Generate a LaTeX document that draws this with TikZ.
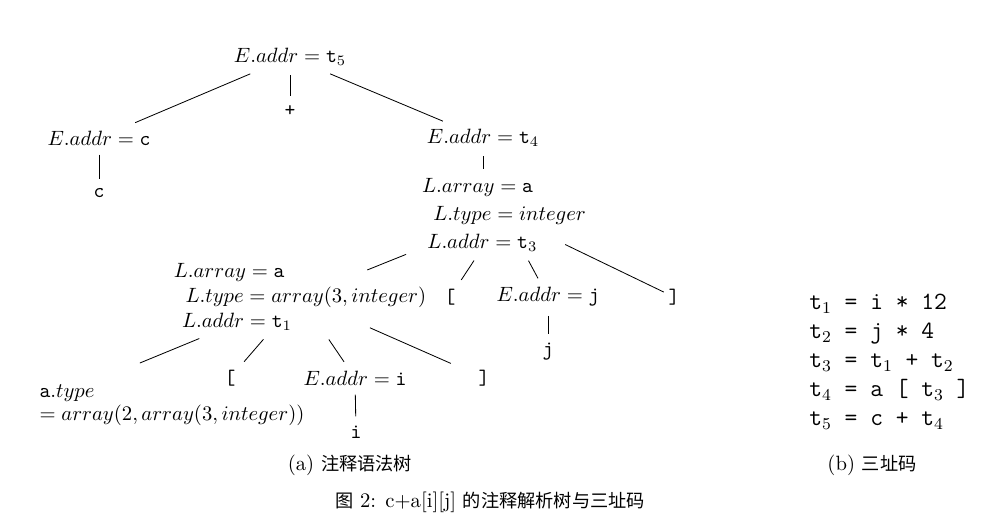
\documentclass[tikz,border=0pt]{standalone}
\usepackage{fontspec}
\usetikzlibrary{calc}
\newfontfamily\cjk[Scale=0.88]{Noto Sans CJK SC}
\begin{document}
\begin{tikzpicture}[x=0.017cm, y=-0.017cm, branch/.style={shorten <=1pt, shorten >=1pt}, tac/.style={font=\large\ttfamily, align=left}]
		\useasboundingbox (0,0) rectangle (983,523);
		\node (root) at (290,57) {$E.addr = \mathtt{t}_5$};
		\node (plus) at (290,111) {\texttt{+}};
		\node (Ec) at (99,138) {$E.addr = \mathtt{c}$};
		\node (c) at (99,193) {$\mathtt{c}$};
		\node (Et4) at (483,138) {$E.addr = \mathtt{t}_4$};
		\node[align=left] (L3) at (504,215) {$L.array = \mathtt{a}$\\[1.5pt]\hspace*{0.19cm}$L.type = integer$\\[1.5pt]\hspace*{0.09cm}$L.addr = \mathtt{t}_3$};
		
		\node (lb3) at (450,297) {\texttt{[}};
		\node (Ej) at (548,297) {$E.addr = \mathtt{j}$};
		\node (rb3) at (674,297) {\texttt{]}};
		\node (j) at (548,352) {$\mathtt{j}$};
		\node[align=left] (L2) at (300,297) {$L.array = \mathtt{a}$\\\hspace*{0.2cm}$L.type = array(3, integer)$\\\hspace*{0.14cm}$L.addr = \mathtt{t}_1$};
		
		\node (atype) at (67,393) {$\mathtt{a}.type$};
		\node[anchor=north west] (atypeval) at ([yshift=5.5pt]atype.south west) {$= array(2, array(3, integer))$};
		\node (lb2) at (230,378) {\texttt{[}};
		\node (Ei) at (355,378) {$E.addr = \mathtt{i}$};
		\node (rb2) at (484,378) {\texttt{]}};
		\node (i) at (356,432) {$\mathtt{i}$};
		
		\node[tac, anchor=west] (code) at (802,362) {t$_1$ = i * 12\\t$_2$ = j * 4\\t$_3$ = t$_1$ + t$_2$\\t$_4$ = a [ t$_3$ ]\\t$_5$ = c + t$_4$};
		
		\node (capa) at (350,465) {(a) {\cjk 注释语法树}};
		\node (capb) at (872,465) {(b) {\cjk 三址码}};
		\node (fig) at (490,502) {{\cjk 图} 2: c+a[i][j] {\cjk 的注释解析树与三址码}};
		
		\draw[branch] (root) -- (Ec);
		\draw[branch] (root) -- (plus);
		\draw[branch] (root) -- (Et4);
		\draw[branch] (Ec) -- (c);
		\draw[branch] (Et4) -- (Et4 |- L3.north);
		\draw ($(L3)!0.48!(L2)$) -- ($(L3)!0.67!(L2)$);
		\draw[branch] (L3) -- (lb3);
		\draw[branch] (L3) -- (Ej);
		\draw ($(L3)!0.36!(rb3)$) -- ($(L3)!0.94!(rb3)$);
		\draw[branch] (Ej) -- (j);
		\draw[branch, shorten >=0.7cm] (L2) -- (atype);
		\draw[branch] (L2) -- (lb2);
		\draw[branch] (L2) -- (Ei);
		\draw ($(L2)!0.38!(rb2)$) -- ($(L2)!0.82!(rb2)$);
		\draw[branch] (Ei) -- (i);
		
	\end{tikzpicture}
\end{document}
